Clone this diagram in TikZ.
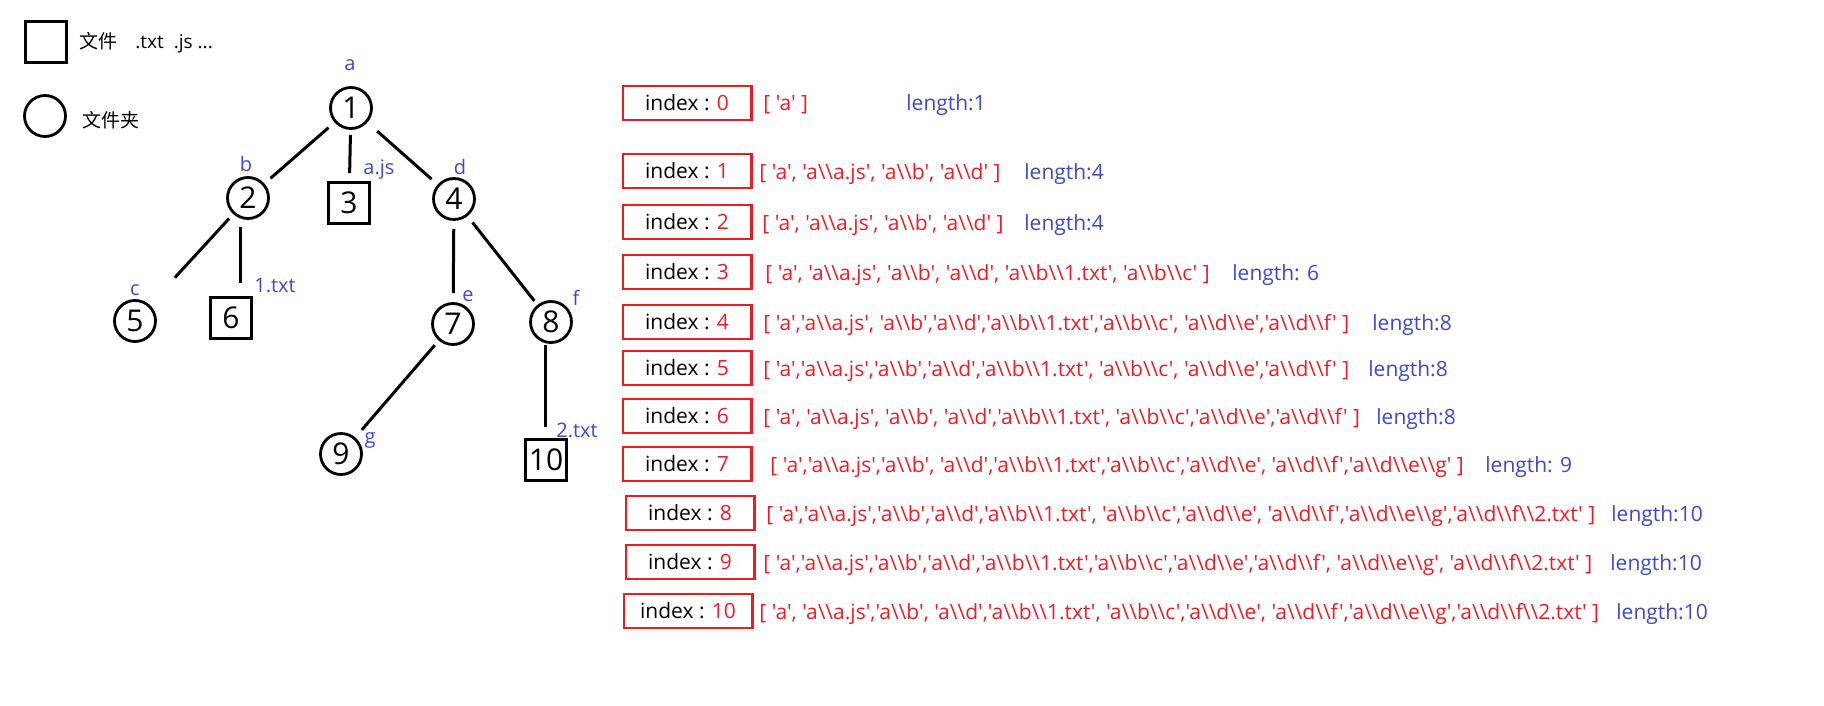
\documentclass[tikz,border=0pt]{standalone}
\usepackage{fontspec}
\usepackage{xcolor}
\usepackage{tikz}
\usetikzlibrary{positioning}
\newfontfamily\ui{Open Sans}
\newfontfamily\cjk{Noto Sans CJK SC}
\definecolor{lkRed}{HTML}{ED1C24}
\definecolor{lkBlue}{HTML}{3F48CC}
\newcommand\bs{\textbackslash\textbackslash}

\begin{document}
\begin{tikzpicture}[x=0.5pt,y=-0.5pt,
  dirnode/.style={circle,draw,line width=1.4pt,minimum size=20.5pt,inner sep=0pt,
    font=\ui\fontsize{15}{15}\selectfont},
  filenode/.style={rectangle,draw,line width=1.4pt,minimum size=20.5pt,inner sep=0pt,
    font=\ui\fontsize{15}{15}\selectfont},
  tag/.style={anchor=base,inner sep=0pt,text=lkBlue,font=\ui\fontsize{10}{12}\selectfont},
  ln/.style={line width=1.5pt,shorten <=4pt,shorten >=4pt},
  idx/.style={draw=lkRed,line width=1.2pt,minimum width=64.3pt,minimum height=16.8pt,
    inner sep=0pt,font=\ui\fontsize{10.5}{12}\selectfont},
  arr/.style={anchor=base west,inner sep=0pt,text=lkRed,font=\ui\fontsize{10.5}{12}\selectfont},
  len/.style={anchor=base west,inner sep=0pt,text=lkBlue,font=\ui\fontsize{10.5}{12}\selectfont}
]
\useasboundingbox (0,0) rectangle (1824,706);

% legend
\node[filenode] (kfile) at (46,42) {};
\node[anchor=west,inner sep=0pt,font=\ui\fontsize{9.5}{12}\selectfont] (kfiletxt) at (79,43)
  {{\cjk 文件}\hspace{9pt}.txt\hspace{5pt}.js ...};
\node[dirnode] (kdir) at (45,116) {};
\node[anchor=west,inner sep=0pt,font=\cjk\fontsize{9.5}{12}\selectfont] (kdirtxt) at (82,120) {文件夹};

% tree
\node[dirnode] (n1) at (351,108) {1};
\node[dirnode] (n2) at (248,198) {2};
\node[filenode] (n3) at (349,203) {3};
\node[dirnode] (n4) at (454,199) {4};
\node[dirnode] (n5) at (135,321) {5};
\node[filenode] (n6) at (231,318) {6};
\node[dirnode] (n7) at (453,324) {7};
\node[dirnode] (n8) at (551,322) {8};
\node[dirnode] (n9) at (341,454) {9};
\node[filenode] (n10) at (546,460) {10};

\node[tag] (ta) at (350,71) {a};
\node[tag] (tb) at (246,171) {b};
\node[tag] (tajs) at (379,174) {a.js};
\node[tag] (td) at (460,174) {d};
\node[tag] (tc) at (135,295) {c};
\node[tag] (t1txt) at (275,292) {1.txt};
\node[tag] (te) at (468,301) {e};
\node[tag] (tf) at (576,305) {f};
\node[tag] (tg) at (370,443) {g};
\node[tag] (t2txt) at (577,437) {2.txt};

\draw[ln] (n1) -- (n2);
\draw[ln,shorten <=2.5pt] (n1) -- (n3);
\draw[ln,shorten <=6.5pt] (n1) -- (n4);
\draw[ln,shorten <=3pt,shorten >=18.5pt] (n2) -- (n5);
\draw[ln,shorten >=6.5pt] (n2.-110) -- (n2.-110 |- n6.north);
\draw[ln,shorten >=4.5pt] (n4) -- (n7);
\draw[ln,shorten >=2.5pt] (n4) -- (n8);
\draw[ln,shorten <=3pt,shorten >=5pt] (n7) -- (n9);
\draw[ln,shorten <=1pt,shorten >=5.5pt] (n8.-105) -- (n8.-105 |- n10.north);

% index rows
\node[idx] (idx0) at (687,103) {index : \textcolor{lkRed}{0}};
\node[idx] (idx1) at (687,171) {index : \textcolor{lkRed}{1}};
\node[idx] (idx2) at (687,222) {index : \textcolor{lkRed}{2}};
\node[idx] (idx3) at (687,272) {index : \textcolor{lkRed}{3}};
\node[idx] (idx4) at (687,322) {index : \textcolor{lkRed}{4}};
\node[idx] (idx5) at (687,368) {index : \textcolor{lkRed}{5}};
\node[idx] (idx6) at (687,416) {index : \textcolor{lkRed}{6}};
\node[idx] (idx7) at (687,464) {index : \textcolor{lkRed}{7}};
\node[idx] (idx8) at (690,513) {index : \textcolor{lkRed}{8}};
\node[idx] (idx9) at (690,562) {index : \textcolor{lkRed}{9}};
\node[idx] (idx10) at (688,611) {index : \textcolor{lkRed}{10}};

\node[arr] (arr0) at (763,111) {[ 'a' ]};
\node[arr] (arr1) at (759,179) {[ 'a', 'a\bs a.js', 'a\bs b', 'a\bs d' ]};
\node[arr] (arr2) at (762,230) {[ 'a', 'a\bs a.js', 'a\bs b', 'a\bs d' ]};
\node[arr] (arr3) at (765,280) {[ 'a', 'a\bs a.js', 'a\bs b', 'a\bs d', 'a\bs b\bs 1.txt', 'a\bs b\bs c' ]};
\node[arr] (arr4) at (763,330) {[ 'a','a\bs a.js', 'a\bs b','a\bs d','a\bs b\bs 1.txt','a\bs b\bs c', 'a\bs d\bs e','a\bs d\bs f' ]};
\node[arr] (arr5) at (763,376) {[ 'a','a\bs a.js','a\bs b','a\bs d','a\bs b\bs 1.txt', 'a\bs b\bs c', 'a\bs d\bs e','a\bs d\bs f' ]};
\node[arr] (arr6) at (763,424) {[ 'a', 'a\bs a.js', 'a\bs b', 'a\bs d','a\bs b\bs 1.txt', 'a\bs b\bs c','a\bs d\bs e','a\bs d\bs f' ]};
\node[arr] (arr7) at (770,472) {[ 'a','a\bs a.js','a\bs b', 'a\bs d','a\bs b\bs 1.txt','a\bs b\bs c','a\bs d\bs e', 'a\bs d\bs f','a\bs d\bs e\bs g' ]};
\node[arr] (arr8) at (766,521) {[ 'a','a\bs a.js','a\bs b','a\bs d','a\bs b\bs 1.txt', 'a\bs b\bs c','a\bs d\bs e', 'a\bs d\bs f','a\bs d\bs e\bs g','a\bs d\bs f\bs 2.txt' ]};
\node[arr] (arr9) at (763,570) {[ 'a','a\bs a.js','a\bs b','a\bs d','a\bs b\bs 1.txt','a\bs b\bs c','a\bs d\bs e','a\bs d\bs f', 'a\bs d\bs e\bs g', 'a\bs d\bs f\bs 2.txt' ]};
\node[arr] (arr10) at (759,619) {[ 'a', 'a\bs a.js','a\bs b', 'a\bs d','a\bs b\bs 1.txt', 'a\bs b\bs c','a\bs d\bs e', 'a\bs d\bs f','a\bs d\bs e\bs g','a\bs d\bs f\bs 2.txt' ]};

\node[len] (len0) at (906,111) {length:1};
\node[len] (len1) at (1024,179) {length:4};
\node[len] (len2) at (1024,230) {length:4};
\node[len] (len3) at (1232,280) {length: 6};
\node[len] (len4) at (1372,330) {length:8};
\node[len] (len5) at (1368,376) {length:8};
\node[len] (len6) at (1376,424) {length:8};
\node[len] (len7) at (1485,472) {length: 9};
\node[len] (len8) at (1611,521) {length:10};
\node[len] (len9) at (1610,570) {length:10};
\node[len] (len10) at (1616,619) {length:10};
\end{tikzpicture}
\end{document}
